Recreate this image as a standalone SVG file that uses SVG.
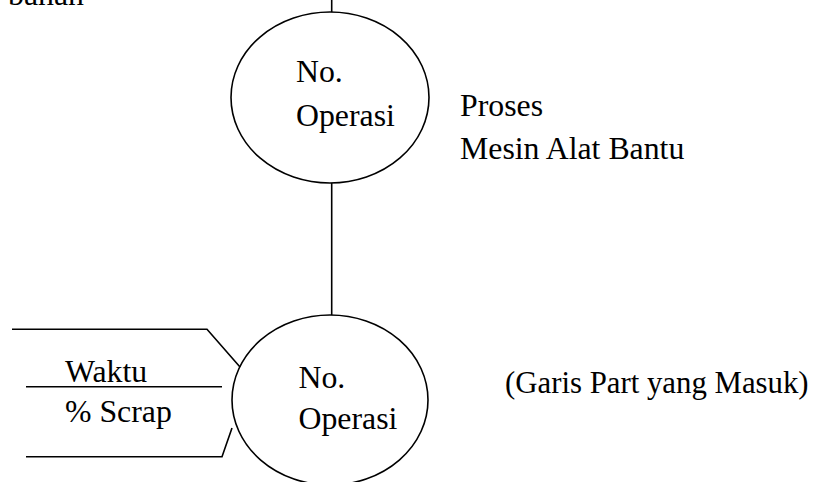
<svg xmlns="http://www.w3.org/2000/svg" width="831" height="482" viewBox="0 0 831 482">
<style>
.t{font-family:'Liberation Serif','Times New Roman',Tinos,'DejaVu Serif',serif;font-size:31.8px;fill:#000}
.s{fill:none;stroke:#000;stroke-width:1.6}
</style>
<rect width="831" height="482" fill="#fff"/>
<text class="t" x="8" y="4.5">bahan</text>
<g id="connectors">
<line class="s" x1="331.7" y1="0" x2="331.7" y2="12"/>
<line class="s" x1="331.7" y1="183" x2="331.7" y2="315"/>
<polyline class="s" points="12,329.3 207,329.3 240,367"/>
<line class="s" x1="26" y1="386.7" x2="222" y2="386.7"/>
<polyline class="s" points="26,456.7 222,456.7 232,428"/>
</g>
<g id="op1">
<ellipse class="s" cx="330" cy="97.5" rx="99" ry="85.5"/>
<text class="t" x="296" y="82">No.</text>
<text class="t" x="296" y="126">Operasi</text>
</g>
<g id="op1-label">
<text class="t" x="460" y="116">Proses</text>
<text class="t" x="460" y="159">Mesin Alat Bantu</text>
</g>
<g id="op2">
<ellipse class="s" cx="330" cy="400" rx="98" ry="85"/>
<text class="t" x="298.5" y="388">No.</text>
<text class="t" x="298.5" y="429">Operasi</text>
</g>
<g id="op2-inputs">
<text class="t" x="65" y="382">Waktu</text>
<text class="t" x="65" y="422">% Scrap</text>
</g>
<g id="op2-label">
<text class="t" x="505" y="393" style="font-size:30.8px">(Garis Part yang Masuk)</text>
</g>
</svg>
